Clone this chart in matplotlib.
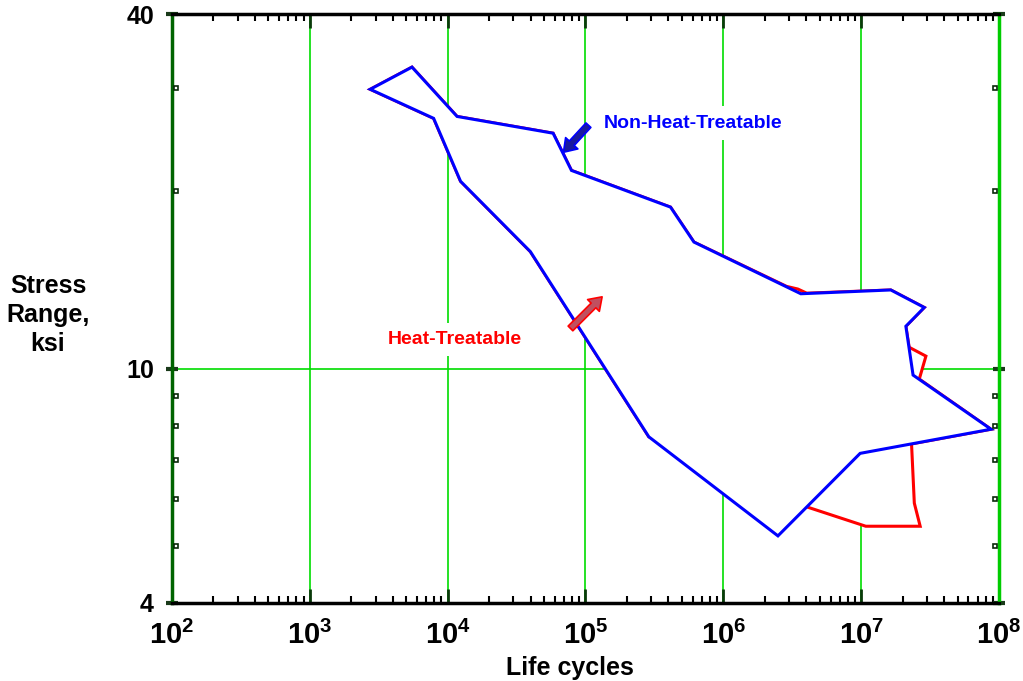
import matplotlib
matplotlib.use("Agg")
import matplotlib.pyplot as plt
from matplotlib import font_manager
from matplotlib.transforms import blended_transform_factory
from matplotlib.patches import Polygon
import numpy as np

# ---- data ----
blue_cycles = [2742, 5510, 11700, 58200, 79100, 414000, 612000, 3.65e6, 1.64e7,
               2.87e7, 2.11e7, 2.38e7, 8.75e7, 9.83e6, 2.49e6, 288000, 39800,
               12400, 7910]
blue_stress = [29.8, 32.5, 26.8, 25.1, 21.7, 18.8, 16.4, 13.4, 13.6,
               12.7, 11.8, 9.75, 7.89, 7.18, 5.20, 7.66, 15.8,
               20.8, 26.6]

red_cycles = [2742, 5510, 11700, 58200, 79100, 414000, 612000, 2.88e6, 3.47e6, 4.03e6,
              1.64e7, 2.87e7, 2.11e7, 2.23e7, 2.95e7, 2.64e7, 8.75e7, 2.32e7,
              2.43e7, 2.68e7, 1.08e7, 4.07e6, 288000, 39800, 12400, 7910]
red_stress = [29.8, 32.5, 26.8, 25.1, 21.7, 18.8, 16.4, 13.79, 13.65, 13.43,
              13.6, 12.7, 11.8, 10.87, 10.5, 9.60, 7.89, 7.45,
              5.91, 5.40, 5.40, 5.82, 7.66, 15.8, 20.8, 26.6]

x_ticks = [1e2, 1e3, 1e4, 1e5, 1e6, 1e7, 1e8]
x_tick_labels = ["2", "3", "4", "5", "6", "7", "8"]
y_ticks = [4, 10, 40]
y_tick_labels = ["4", "10", "40"]
y_minor = [5, 6, 7, 8, 9, 20, 30]

blue_arrow_tail = (1.05e5, 25.9)
blue_arrow_tip = (69200, 23.3)
red_arrow_tail = (77800, 11.7)
red_arrow_tip = (132000, 13.24)

# ---- fonts ----
def has_font(name):
    try:
        font_manager.findfont(font_manager.FontProperties(family=name), fallback_to_default=False)
        return True
    except Exception:
        return False

FAM = "Liberation Sans Narrow" if has_font("Liberation Sans Narrow") else "Liberation Sans"
plt.rcParams["font.family"] = [FAM, "DejaVu Sans"]
plt.rcParams["mathtext.fontset"] = "custom"
plt.rcParams["mathtext.bf"] = FAM + ":bold"
plt.rcParams["mathtext.rm"] = FAM + ":bold"

fig = plt.figure(figsize=(10.23, 6.81), dpi=100)
L, R, T, B = 172, 999, 14, 603
W, H = 1023, 681
ax = fig.add_axes([L / W, 1 - B / H, (R - L) / W, (B - T) / H])
ax.set_xscale("log")
ax.set_yscale("log")
ax.set_xlim(1e2, 1e8)
ax.set_ylim(4, 40)

# grid
for xv in x_ticks:
    ax.axvline(xv, color="#00dd00", lw=1.2, zorder=0)
ax.axhline(10, color="#00dd00", lw=1.2, zorder=0)

# polygons
red_poly = Polygon(np.column_stack([red_cycles, red_stress]), closed=True,
                   facecolor="white", edgecolor="#ff0000", lw=2.2, zorder=2,
                   joinstyle="miter")
ax.add_patch(red_poly)
blue_poly = Polygon(np.column_stack([blue_cycles, blue_stress]), closed=True,
                    facecolor="white", edgecolor="#0000ff", lw=2.2, zorder=3,
                    joinstyle="miter")
ax.add_patch(blue_poly)

# labels in plot
ax.text(1.35e5, 26.1, "Non-Heat-Treatable", color="#0000ff", fontsize=14,
        fontweight="bold", ha="left", va="center", zorder=4,
        bbox=dict(facecolor="white", edgecolor="none", pad=6))
ax.text(3650, 11.2, "Heat-Treatable", color="#ff0000", fontsize=14,
        fontweight="bold", ha="left", va="center", zorder=4,
        bbox=dict(facecolor="white", edgecolor="none", pad=6))

ax.annotate("", xy=blue_arrow_tip, xytext=blue_arrow_tail, zorder=5,
            arrowprops=dict(arrowstyle="simple,head_length=0.55,head_width=0.75,tail_width=0.3",
                            fc="#1a1aa0", ec="#0000ff", lw=1.2, mutation_scale=16,
                            shrinkA=0, shrinkB=0))
ax.annotate("", xy=red_arrow_tip, xytext=red_arrow_tail, zorder=5,
            arrowprops=dict(arrowstyle="simple,head_length=0.55,head_width=0.75,tail_width=0.3",
                            fc="#c05060", ec="#ff0000", lw=1.2, mutation_scale=16,
                            shrinkA=0, shrinkB=0))

# spines
ax.spines["top"].set_color("black")
ax.spines["bottom"].set_color("black")
ax.spines["left"].set_color("#006400")
ax.spines["right"].set_color("#00cc00")
for s in ax.spines.values():
    s.set_linewidth(2.5)
    s.set_zorder(6)

# x ticks
ax.set_xticks(x_ticks)
ax.set_xticklabels([r"$\mathbf{10^{%s}}$" % e for e in x_tick_labels])
ax.tick_params(axis="x", which="major", direction="in", length=10, width=2,
               color="#0a3a0a", top=True, bottom=True, labelsize=21, pad=13)
ax.tick_params(axis="x", which="minor", direction="in", length=5, width=1.5,
               color="black", top=True, bottom=True)

# y ticks
ax.set_yticks(y_ticks)
ax.set_yticklabels(y_tick_labels)
ax.yaxis.set_minor_locator(matplotlib.ticker.NullLocator())
ax.tick_params(axis="y", which="major", direction="inout", length=8, width=3,
               color="#1a3a1a", left=True, right=True, labelsize=18, pad=9)
for lab in ax.get_yticklabels():
    lab.set_fontweight("bold")
for lab in ax.get_xticklabels():
    lab.set_fontweight("bold")

tr = blended_transform_factory(ax.transAxes, ax.transData)
ax.plot([4 / 827] * len(y_minor), y_minor, "s", ms=3.5, mfc="white", mec="#0a2a0a",
        mew=1.2, transform=tr, clip_on=False, zorder=7)
ax.plot([1 - 4 / 827] * len(y_minor), y_minor, "s", ms=3.5, mfc="white", mec="#0a2a0a",
        mew=1.2, transform=tr, clip_on=False, zorder=7)

# axis titles
fig.text(48 / W, 1 - 315 / H, "Stress\nRange,\nksi", ha="center", va="center",
         multialignment="center", fontsize=18, fontweight="bold", linespacing=1.25)
fig.text(570 / W, 1 - 656 / H, "Life cycles", ha="center", va="top",
         fontsize=18, fontweight="bold")

fig.savefig("out.png", dpi=100)
